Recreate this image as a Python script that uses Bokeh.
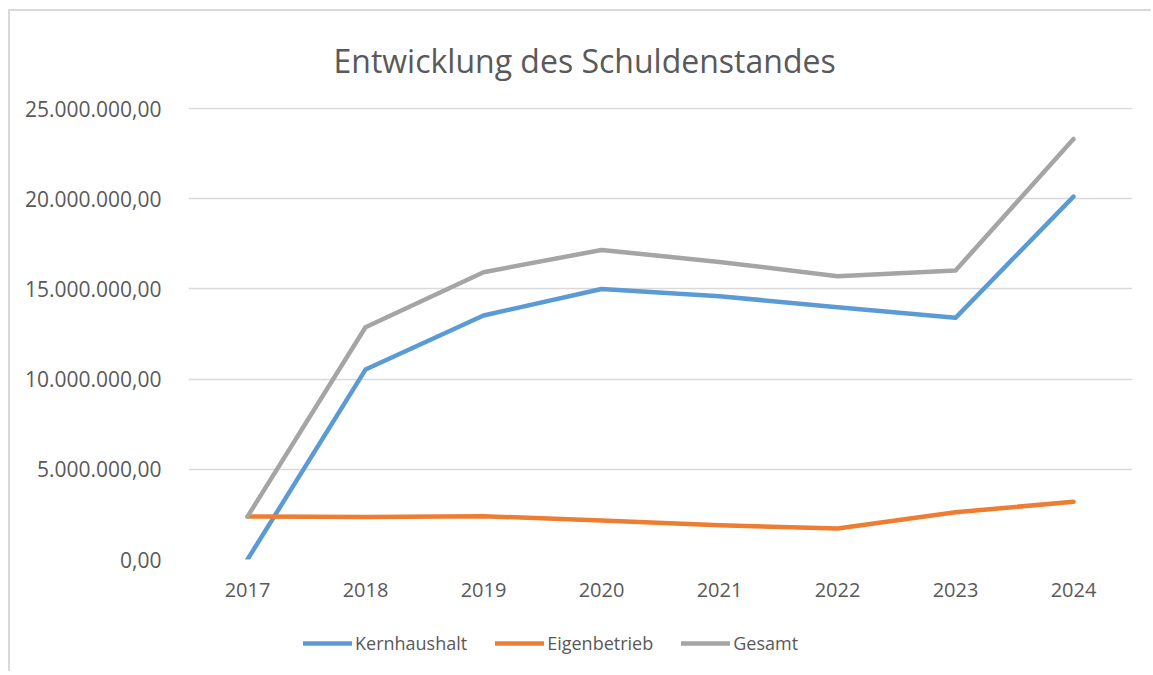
from bokeh.plotting import figure
from bokeh.layouts import column
from bokeh.models import FactorRange, Range1d, FixedTicker, CustomJSTickFormatter, Legend, LegendItem, Title
from bokeh.embed import file_html
from bokeh.resources import INLINE

years = ["2017", "2018", "2019", "2020", "2021", "2022", "2023", "2024"]
kernhaushalt = [0.00, 10.53e6, 13.53e6, 15.00e6, 14.60e6, 13.98e6, 13.40e6, 20.12e6]
eigenbetrieb = [2.38e6, 2.35e6, 2.40e6, 2.16e6, 1.90e6, 1.72e6, 2.62e6, 3.20e6]
gesamt = [2.38e6, 12.88e6, 15.93e6, 17.16e6, 16.50e6, 15.70e6, 16.02e6, 23.32e6]
y_ticks = [0, 5e6, 10e6, 15e6, 20e6, 25e6]
series_names = ["Kernhaushalt", "Eigenbetrieb", "Gesamt"]
colors = ["#5B9BD5", "#ED7D31", "#A5A5A5"]

FONT = "Open Sans"
TXT = "#595959"

p = figure(x_range=FactorRange(*years, range_padding=0), y_range=Range1d(0, 25.06e6),
           width=1141, height=598, output_backend="svg", toolbar_location=None,
           min_border_left=178, min_border_right=19, min_border_top=96, min_border_bottom=50)
p.frame_width = 944
p.frame_height = 452
p.outline_line_color = None
p.background_fill_color = "white"

t = Title(text="Entwicklung des Schuldenstandes", align="left", text_font=FONT,
          text_font_size="32px", text_font_style="normal", text_color=TXT, offset=145, standoff=51)
p.add_layout(t, "above")
p.title.visible = False

p.xgrid.grid_line_color = None
p.ygrid.grid_line_color = "#D9D9D9"
p.ygrid.grid_line_width = 1.3
p.yaxis.ticker = FixedTicker(ticks=y_ticks)
p.yaxis.formatter = CustomJSTickFormatter(code="""
    const s = Math.round(tick).toString();
    const parts = [];
    for (let i = s.length; i > 0; i -= 3) parts.unshift(s.substring(Math.max(0, i - 3), i));
    return parts.join('.') + ',00';
""")
for ax in (p.xaxis, p.yaxis):
    ax.axis_line_color = None
    ax.major_tick_line_color = None
    ax.minor_tick_line_color = None
    ax.major_label_text_font = FONT
    ax.major_label_text_color = TXT
p.xaxis.major_label_text_font_size = "20px"
p.yaxis.major_label_text_font_size = "21px"
p.yaxis.major_label_standoff = 21
p.xaxis.major_label_standoff = 17

for vals, c in zip([kernhaushalt, eigenbetrieb, gesamt], colors):
    p.line(years, vals, line_color=c, line_width=4.5, line_cap="round", line_join="round")

# legend strip below the chart (its sample lines lie outside the strip's visible range)
lf = figure(x_range=Range1d(0, 1), y_range=Range1d(0, 1), width=1141, height=62,
            output_backend="svg", toolbar_location=None, x_axis_type=None, y_axis_type=None,
            min_border=0)
lf.outline_line_color = None
lf.xgrid.visible = False
lf.ygrid.visible = False
legend_renderers = [lf.line([5, 6], [5, 6], line_color=c, line_width=4.5, line_cap="round")
                    for c in colors]
legend = Legend(items=[LegendItem(label=n, renderers=[r]) for n, r in zip(series_names, legend_renderers)],
                orientation="horizontal", location=(115, 15), glyph_width=49, glyph_height=26,
                label_height=26, label_standoff=3, spacing=28, padding=0, margin=0,
                label_text_font=FONT, label_text_font_size="18px", label_text_color=TXT,
                border_line_color=None, background_fill_alpha=0)
lf.add_layout(legend, "center")

layout = column(p, lf, spacing=0)
layout.styles = {"margin-left": "8px", "margin-top": "9px",
                 "border-left": "2px solid #D9D9D9", "border-top": "2px solid #D9D9D9"}

open("out.html", "w").write(file_html(layout, INLINE))
